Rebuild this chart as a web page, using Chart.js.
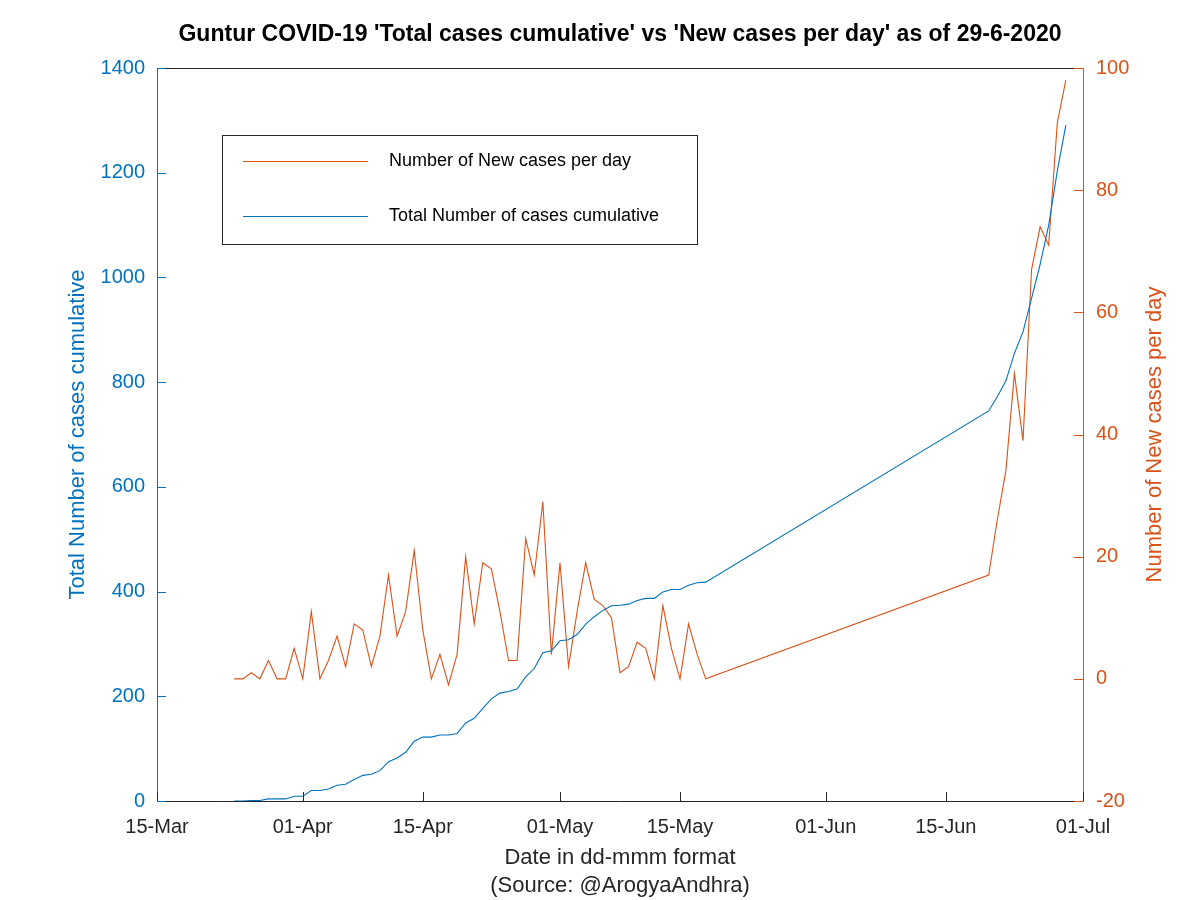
<!DOCTYPE html>
<html>
<head>
<meta charset="utf-8">
<script src="https://cdn.jsdelivr.net/npm/chart.js@4.4.1/dist/chart.umd.min.js"></script>
<style>
  html, body { margin: 0; padding: 0; background: #fff; }
</style>
</head>
<body>
<canvas id="myChart" width="1200" height="900"></canvas>
<script>
// dates as dd-mm (2020), no data between 18-May and 20-Jun
const dates = [
  '24-03','25-03','26-03','27-03','28-03','29-03','30-03','31-03',
  '01-04','02-04','03-04','04-04','05-04','06-04','07-04','08-04','09-04','10-04',
  '11-04','12-04','13-04','14-04','15-04','16-04','17-04','18-04','19-04','20-04',
  '21-04','22-04','23-04','24-04','25-04','26-04','27-04','28-04','29-04','30-04',
  '01-05','02-05','03-05','04-05','05-05','06-05','07-05','08-05','09-05','10-05',
  '11-05','12-05','13-05','14-05','15-05','16-05','17-05','18-05',
  '20-06','21-06','22-06','23-06','24-06','25-06','26-06','27-06','28-06','29-06'
]
const newCases = [
  0, 0, 1, 0, 3, 0, 0, 5,
  0, 11, 0, 3, 7, 2, 9, 8, 2, 7,
  17, 7, 11, 21, 8, 0, 4, -1, 4, 20,
  9, 19, 18, 11, 3, 3, 23, 17, 29, 4,
  19, 2, 11, 19, 13, 12, 10, 1, 2, 6,
  5, 0, 12, 5, 0, 9, 4, 0,
  17, 26, 34, 50, 39, 67, 74, 71, 91, 98
]
const totalCases = [
  0, 0, 1, 1, 4, 4, 4, 9,
  9, 20, 20, 23, 30, 32, 41, 49, 51, 58,
  75, 82, 93, 114, 122, 122, 126, 126, 129, 149,
  158, 177, 195, 206, 209, 214, 237, 253, 283, 287,
  306, 308, 318, 338, 352, 364, 373, 374, 376, 383,
  387, 387, 399, 404, 404, 412, 417, 418,
  745, 772, 802, 855, 896, 960, 1025, 1100, 1203, 1291
]
const tickDates = ['15-03','01-04','15-04','01-05','15-05','01-06','15-06','01-07']
const tickLabels = ['15-Mar','01-Apr','15-Apr','01-May','15-May','01-Jun','15-Jun','01-Jul']

const BLUE = '#0072BD'
const RED = '#D95319'
const DARK = '#262626'
const FONT = "'Liberation Sans', Arial, Helvetica, sans-serif"

function dayOf(s){
  var p = s.split('-')
  return (Date.UTC(2020, +p[1] - 1, +p[0]) - Date.UTC(2020, 2, 15)) / 86400000
}
const tickDays = tickDates.map(dayOf)

// ticks pointing inside, top border, legend box, right title
const extras = {
  id: 'extras',
  afterDatasetsDraw(chart){
    const ctx = chart.ctx
    const a = chart.chartArea
    const sx = chart.scales.x, sy = chart.scales.y, sy2 = chart.scales.y2
    ctx.save()
    ctx.lineWidth = 1
    function line(x1, y1, x2, y2, c){
      ctx.strokeStyle = c
      ctx.beginPath(); ctx.moveTo(x1, y1); ctx.lineTo(x2, y2); ctx.stroke()
    }
    // top border
    line(a.left, a.top + 0.5, a.right, a.top + 0.5, DARK)
    sx.ticks.forEach(t => {
      var px = Math.round(sx.getPixelForValue(t.value)) + 0.5
      line(px, a.bottom, px, a.bottom - 9, DARK)
    })
    sy.ticks.forEach(t => {
      var py = Math.round(sy.getPixelForValue(t.value)) + 0.5
      line(a.left, py, a.left + 9, py, BLUE)
    })
    sy2.ticks.forEach(t => {
      var py = Math.round(sy2.getPixelForValue(t.value)) + 0.5
      line(a.right, py, a.right - 9, py, RED)
    })

    // legend
    ctx.fillStyle = '#fff'
    ctx.fillRect(222, 135, 475, 109)
    ctx.strokeStyle = DARK
    ctx.strokeRect(222.5, 135.5, 475, 109)
    line(243, 161.5, 368, 161.5, RED)
    line(243, 216.5, 368, 216.5, BLUE)
    ctx.fillStyle = '#000'
    ctx.font = '18px ' + FONT
    ctx.textAlign = 'left'
    ctx.textBaseline = 'middle'
    ctx.fillText(chart.data.datasets[1].label, 389, 161)
    ctx.fillText(chart.data.datasets[0].label, 389, 216)

    // right axis title, reads bottom to top
    ctx.translate(1155, (a.top + a.bottom) / 2)
    ctx.rotate(-Math.PI / 2)
    ctx.fillStyle = RED
    ctx.font = '22px ' + FONT
    ctx.textAlign = 'center'
    ctx.fillText('Number of New cases per day', 0, 0)
    ctx.restore()
  }
}

var ctx = document.getElementById('myChart').getContext('2d')
var myChart = new Chart(ctx, {
  type: 'line',
  data: {
    datasets: [{
      label: 'Total Number of cases cumulative',
      data: dates.map((d, i) => ({x: dayOf(d), y: totalCases[i]})),
      borderColor: BLUE,
      backgroundColor: BLUE,
      borderWidth: 1.1,
      pointRadius: 0,
      tension: 0,
      fill: false,
      yAxisID: 'y'
    },
    {
      label: 'Number of New cases per day',
      data: dates.map((d, i) => ({x: dayOf(d), y: newCases[i]})),
      borderColor: RED,
      backgroundColor: RED,
      borderWidth: 1.1,
      pointRadius: 0,
      tension: 0,
      fill: false,
      yAxisID: 'y2'
    }]
  },
  options: {
    responsive: false,
    animation: false,
    layout: { padding: 0 },
    plugins: {
      legend: { display: false },
      tooltip: { enabled: false },
      title: {
        display: true,
        fullSize: false,
        text: "Guntur COVID-19 'Total cases cumulative' vs 'New cases per day' as of 29-6-2020",
        color: '#000',
        font: { family: FONT, size: 23, weight: 'bold', lineHeight: 1.2 },
        padding: { top: 21, bottom: 19.4 }
      }
    },
    scales: {
      x: {
        type: 'linear',
        min: 0,
        max: 108,
        afterBuildTicks: (scale) => { scale.ticks = tickDays.map(v => ({value: v})) },
        afterFit: (scale) => { scale.height = 99 },
        grid: { display: false, drawTicks: false },
        border: { display: true, color: DARK, width: 1 },
        ticks: {
          color: DARK,
          font: { family: FONT, size: 20 },
          padding: 14,
          maxRotation: 0,
          autoSkip: false,
          callback: (v) => tickLabels[tickDays.indexOf(v)]
        },
        title: {
          display: true,
          text: ['Date in dd-mmm format', '(Source: @ArogyaAndhra)'],
          color: DARK,
          font: { family: FONT, size: 22, lineHeight: 1.27 },
          padding: { top: 0, bottom: 0 }
        }
      },
      y: {
        position: 'left',
        min: 0,
        max: 1400,
        afterFit: (scale) => { scale.width = 157 },
        grid: { display: false, drawTicks: false },
        border: { display: true, color: BLUE, width: 1 },
        ticks: {
          stepSize: 200,
          color: BLUE,
          font: { family: FONT, size: 20 },
          padding: 12,
          callback: (v) => String(v)
        },
        title: {
          display: true,
          text: 'Total Number of cases cumulative',
          color: BLUE,
          font: { family: FONT, size: 22, lineHeight: 1.2 },
          padding: { top: 65, bottom: 0 }
        }
      },
      y2: {
        position: 'right',
        min: -20,
        max: 100,
        afterFit: (scale) => { scale.width = 117 },
        grid: { display: false, drawTicks: false },
        border: { display: true, color: RED, width: 1 },
        ticks: {
          stepSize: 20,
          color: RED,
          font: { family: FONT, size: 20 },
          padding: 13,
          callback: (v) => String(v)
        }
      }
    }
  },
  plugins: [extras]
})
</script>
</body>
</html>
